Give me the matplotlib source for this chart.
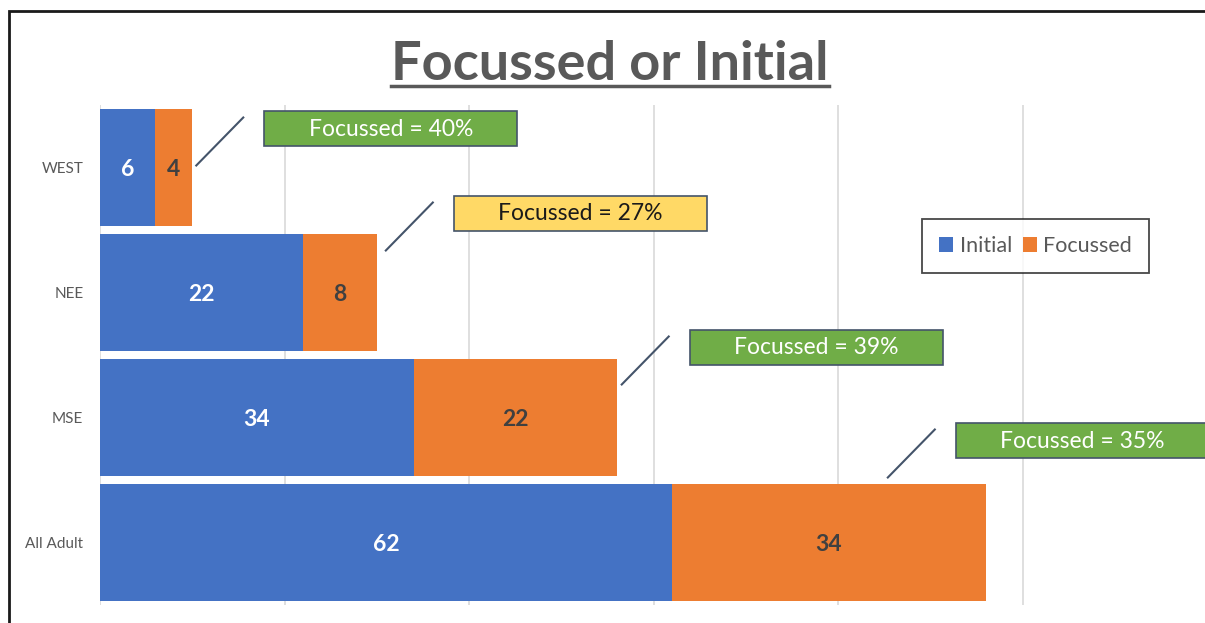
'''Focussed or Initial - stacked horizontal bars.'''

import matplotlib
matplotlib.use("Agg")
import matplotlib.pyplot as plt
from matplotlib.patches import Rectangle
from matplotlib.lines import Line2D
from matplotlib.transforms import IdentityTransform

categories = ["WEST", "NEE", "MSE", "All Adult"]
initial = [6, 22, 34, 62]
focussed = [4, 8, 22, 34]
callouts = ["Focussed = 40%", "Focussed = 27%", "Focussed = 39%", "Focussed = 35%"]

# callout styling: box colour, text colour, leader line start offset (px from bar end)
box_colors = ["#70AD47", "#FFD966", "#70AD47", "#70AD47"]
box_text_colors = ["white", "#1a1a1a", "white", "white"]
leader_start = [(4, 2), (9, 42), (5, 33), (-98, 65)]

BLUE = "#4472C4"
ORANGE = "#ED7D31"
GREY = "#595959"
FONT = "Lato"


def main():
    plt.rcParams['font.family'] = [FONT, 'DejaVu Sans']
    W, H = 1205, 623
    fig = plt.figure(figsize=(W / 100, H / 100), dpi=100)
    ax = fig.add_axes([100 / W, 18 / H, 1015 / W, 500 / H])

    y = list(range(len(categories)))
    ax.barh(y, initial, height=0.94, color=BLUE, edgecolor="none", zorder=3, label="Initial")
    ax.barh(y, focussed, left=initial, height=0.94, color=ORANGE, edgecolor="none",
            zorder=3, label="Focussed")

    for i in y:
        ax.text(initial[i] / 2, i, str(initial[i]), ha="center", va="center_baseline",
                color="white", fontsize=16.5, fontweight="bold", zorder=4)
        ax.text(initial[i] + focussed[i] / 2, i, str(focussed[i]), ha="center",
                va="center_baseline", color="#404040", fontsize=16.5, fontweight="bold",
                zorder=4)

    ax.set_xlim(0, 110)
    ax.set_ylim(len(categories) - 0.5, -0.5)
    ax.set_xticks(range(0, 101, 20))
    ax.set_xticklabels([])
    ax.set_yticks(y)
    ax.set_yticklabels(categories, color=GREY, fontsize=11)
    ax.tick_params(length=0, pad=12)
    ax.tick_params(axis="x", pad=0)
    ax.grid(axis="x", color="#D9D9D9", linewidth=1.2, zorder=0)
    for s in ax.spines.values():
        s.set_visible(False)

    leg = ax.legend(loc="upper left", bbox_to_anchor=(822 / 1015, 1 - (219 - 105) / 500),
                    ncol=2, fontsize=15.5, frameon=True, fancybox=False, handlelength=0.65,
                    handleheight=0.65, handletextpad=0.3, columnspacing=0.5,
                    borderpad=0.8, borderaxespad=0, labelcolor=GREY)
    leg.get_frame().set_edgecolor("#1a1a1a")
    leg.get_frame().set_linewidth(1.3)

    # callouts: leader line and label box next to each bar end
    idt = IdentityTransform()
    for i in y:
        total = initial[i] + focussed[i]
        ex, ey = ax.transData.transform((total, i))
        sx, sy = ex + leader_start[i][0], ey + leader_start[i][1]
        lx, ly = sx + 47, sy + 48
        fig.add_artist(Line2D([sx, lx], [sy, ly], color="#44546A", linewidth=1.5,
                              transform=idt))
        bx, by = lx + 21, ly - 28
        fig.add_artist(Rectangle((bx, by), 253, 35, facecolor=box_colors[i],
                                 edgecolor="#44546A", linewidth=1.2, transform=idt))
        fig.text(bx + 126.5, by + 16.5, callouts[i], ha="center", va="center",
                 color=box_text_colors[i], fontsize=16.5, transform=idt)

    # title with underline
    t = fig.text(610 / W, 1 - 80 / H, "Focussed or Initial", ha="center", va="baseline",
                 fontsize=39, fontweight="bold", color=GREY)
    fig.canvas.draw()
    bb = t.get_window_extent()
    fig.add_artist(Line2D([bb.x0, bb.x1], [H - 86, H - 86], color=GREY, linewidth=2.5,
                          transform=idt))

    # outer frame
    fig.add_artist(Rectangle((9, -20), W + 20, H - 11 + 20, facecolor="none",
                             edgecolor="#1a1a1a", linewidth=2, transform=idt))

    fig.savefig("out.png", dpi=100)


if __name__ == "__main__":
    main()
